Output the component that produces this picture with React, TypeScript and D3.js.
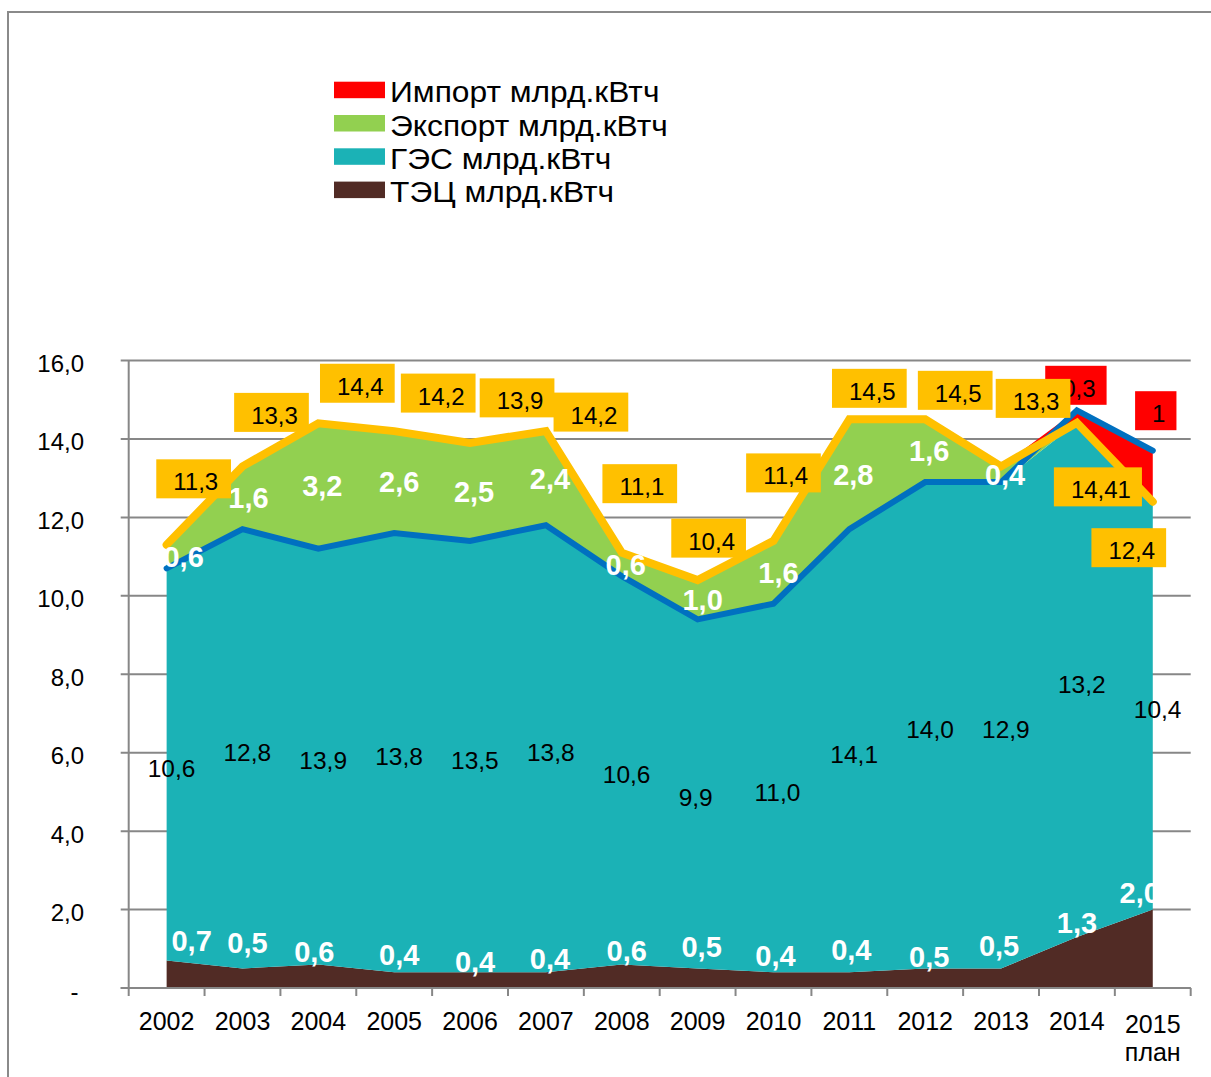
import React from "react";
import * as d3 from "d3";

// ---------- data ----------
const categories = ["2002", "2003", "2004", "2005", "2006", "2007", "2008", "2009", "2010", "2011", "2012", "2013", "2014", "2015"];
const categorySubLabels = ["", "", "", "", "", "", "", "", "", "", "", "", "", "план"];
const tecValues = [0.7, 0.5, 0.6, 0.4, 0.4, 0.4, 0.6, 0.5, 0.4, 0.4, 0.5, 0.5, 1.3, 2.0];
const gesLabelValues = [10.6, 12.8, 13.9, 13.8, 13.5, 13.8, 10.6, 9.9, 11.0, 14.1, 14.0, 12.9, 13.2, 10.4];
const exportValues = [0.6, 1.6, 3.2, 2.6, 2.5, 2.4, 0.6, 1.0, 1.6, 2.8, 1.6, 0.4, 0, 0];
const importValues = [0, 0, 0, 0, 0, 0, 0, 0, 0, 0, 0, 0, 0.32, 1.3];
const importLabels = ["", "", "", "", "", "", "", "", "", "", "", "", "0,3", "1"];
const totalValues = [11.3, 13.3, 14.4, 14.2, 13.9, 14.2, 11.1, 10.4, 11.4, 14.5, 14.5, 13.3, 14.41, 12.4];
const yTicks = [0, 2, 4, 6, 8, 10, 12, 14, 16];
const legendLabels = ["Импорт млрд.кВтч", "Экспорт млрд.кВтч", "ГЭС млрд.кВтч", "ТЭЦ млрд.кВтч"];

// ---------- styles / layout ----------
const COLORS = {
  tec: "#512B25",
  ges: "#1BB2B6",
  export: "#92D050",
  import: "#FF0000",
  yellow: "#FFC000",
  blue: "#0070C0",
  grid: "#878787",
};
const legendColors = [COLORS.import, COLORS.export, COLORS.ges, COLORS.tec];
const FONT = "'Liberation Sans', Arial, sans-serif";
const W = 1211;
const H = 1077;
const PL = 128.7;
const PR = 1190.7;
const PT = 360.5;
const PB = 988;

// label placement (pixel offsets, as placed manually in the original)
const totalLabelOffsets = [
  [27, -66], [29, -54], [39, -40], [44, -38], [47, -45], [45, -19], [18, -69],
  [11, -42], [10, -68], [20, -31], [30, -29], [32, -68], [21, 64], [-24, 46],
];
const importLabelOffsets = [
  [0, 0], [0, 0], [0, 0], [0, 0], [0, 0], [0, 0], [0, 0],
  [0, 0], [0, 0], [0, 0], [0, 0], [0, 0], [-1, -25], [3, -40],
];
const exportLabelDx = [17, 6, 4, 5, 4, 4, 4, 5, 5, 4, 4, 4, 0, 0];
const tecLabelOffsets = [
  [25, -20], [5, -26], [-4, -13], [5, -18], [5, -11], [4, -14], [5, -14],
  [4, -22], [2, -17], [2, -23], [4, -12], [-2, -23], [0, -14], [-13, -17],
];

const fmt1 = (v: number) => v.toFixed(1).replace(".", ",");
const fmtTotal = (v: number) =>
  (Math.abs(Math.round(v * 10) - v * 10) > 1e-6 ? v.toFixed(2) : v.toFixed(1)).replace(".", ",");
const textWidth = (s: string, size: number) =>
  s.split("").reduce((a, ch) => a + (ch === "," || ch === "." ? 0.278 : 0.556), 0) * size;

export default function App() {
  const x = d3.scaleBand<string>().domain(categories).range([PL, PR]).paddingInner(0).paddingOuter(0);
  const cx = (i: number) => (x(categories[i]) as number) + x.bandwidth() / 2;
  const y = d3.scaleLinear().domain([0, 16]).range([PB, PT]);

  const rows = categories.map((c, i) => ({
    tec: tecValues[i],
    ges: totalValues[i] - exportValues[i] - tecValues[i],
    export: exportValues[i],
    import: importValues[i],
  }));
  const keys = ["tec", "ges", "export", "import"];
  const series = d3.stack<any>().keys(keys)(rows);
  const area = d3
    .area<any>()
    .x((d: any, i: number) => cx(i))
    .y0((d: any) => y(d[0]))
    .y1((d: any) => y(d[1]));
  const areaColors: Record<string, string> = {
    tec: COLORS.tec,
    ges: COLORS.ges,
    export: COLORS.export,
    import: COLORS.import,
  };

  const idx = categories.map((_, i) => i);
  const blueLine = d3
    .line<number>()
    .x((i) => cx(i))
    .y((i) => y(totalValues[i] - exportValues[i] + importValues[i]));
  const yellowLine = d3
    .line<number>()
    .x((i) => cx(i))
    .y((i) => y(totalValues[i]));

  const boxLabel = (text: string, centerX: number, centerY: number, fill: string, key: string) => {
    const fs = 24;
    const tw = textWidth(text, fs);
    const bw = tw + 28;
    const bh = 39;
    const left = centerX - bw / 2;
    const top = centerY - bh / 2;
    return (
      <g key={key}>
        <rect x={left} y={top} width={bw} height={bh} fill={fill} />
        <text x={left + 17} y={top + 31} fontSize={fs} fill="#000" fontFamily={FONT}>
          {text}
        </text>
      </g>
    );
  };

  return (
    <svg
      width={W}
      height={H}
      viewBox={`0 0 ${W} ${H}`}
      style={{ position: "absolute", left: 0, top: 0, display: "block", background: "#fff" }}
    >
      {/* chart frame */}
      <rect x={8} y={12} width={W + 20} height={H + 20} fill="none" stroke="#8a8a8a" strokeWidth={2} />

      {/* gridlines */}
      {yTicks.map((t) => (
        <line key={"g" + t} x1={PL - 8} x2={PR} y1={y(t)} y2={y(t)} stroke={COLORS.grid} strokeWidth={2} />
      ))}

      {/* stacked areas */}
      {series.map((s: any) => (
        <path key={s.key} d={area(s) || ""} fill={areaColors[s.key]} />
      ))}

      {/* lines */}
      <path d={blueLine(idx) || ""} fill="none" stroke={COLORS.blue} strokeWidth={6} strokeLinecap="round" strokeLinejoin="miter" />
      <path d={yellowLine(idx) || ""} fill="none" stroke={COLORS.yellow} strokeWidth={8} strokeLinecap="round" strokeLinejoin="miter" />

      {/* axes */}
      <line x1={PL} x2={PL} y1={PT} y2={PB} stroke={COLORS.grid} strokeWidth={2} />
      <line x1={PL - 8} x2={PR} y1={PB} y2={PB} stroke={COLORS.grid} strokeWidth={2} />
      {d3.range(categories.length + 1).map((k) => {
        const xx = PL + k * x.bandwidth();
        return <line key={"xt" + k} x1={xx} x2={xx} y1={PB} y2={PB + 8} stroke={COLORS.grid} strokeWidth={2} />;
      })}

      {/* y tick labels */}
      {yTicks.map((t) => (
        <text
          key={"yl" + t}
          x={t === 0 ? 78.5 : 84}
          y={y(t) + 11.5}
          textAnchor="end"
          fontSize={24}
          fontFamily={FONT}
          fill="#000"
        >
          {t === 0 ? "-" : fmt1(t)}
        </text>
      ))}

      {/* x tick labels */}
      {categories.map((c, i) => (
        <g key={"xl" + c}>
          <text
            x={cx(i)}
            y={categorySubLabels[i] ? 1032.5 : 1030}
            textAnchor="middle"
            fontSize={25}
            fontFamily={FONT}
            fill="#000"
          >
            {c}
          </text>
          {categorySubLabels[i] && (
            <text x={cx(i)} y={1061} textAnchor="middle" fontSize={25} fontFamily={FONT} fill="#000">
              {categorySubLabels[i]}
            </text>
          )}
        </g>
      ))}

      {/* ГЭС labels */}
      {categories.map((c, i) => {
        const mid = (tecValues[i] + totalValues[i] - exportValues[i]) / 2;
        return (
          <text key={"ges" + c} x={cx(i) - 19} y={y(mid) + 12.6} fontSize={24.5} fontFamily={FONT} fill="#000">
            {fmt1(gesLabelValues[i])}
          </text>
        );
      })}

      {/* ТЭЦ labels */}
      {categories.map((c, i) => (
        <text
          key={"tec" + c}
          x={cx(i) + tecLabelOffsets[i][0]}
          y={y(tecValues[i]) + tecLabelOffsets[i][1] + 10.4}
          textAnchor="middle"
          fontSize={29}
          fontWeight="bold"
          fontFamily={FONT}
          fill="#fff"
        >
          {fmt1(tecValues[i])}
        </text>
      ))}

      {/* Export labels */}
      {categories.map((c, i) =>
        exportValues[i] > 0 ? (
          <text
            key={"exp" + c}
            x={cx(i) + exportLabelDx[i]}
            y={y(totalValues[i] - exportValues[i] / 2) + 10.4}
            textAnchor="middle"
            fontSize={29}
            fontWeight="bold"
            fontFamily={FONT}
            fill="#fff"
          >
            {fmt1(exportValues[i])}
          </text>
        ) : null
      )}

      {/* import labels (red boxes) */}
      {categories.map((c, i) =>
        importLabels[i]
          ? boxLabel(
              importLabels[i],
              cx(i) + importLabelOffsets[i][0],
              y(totalValues[i] + importValues[i]) + importLabelOffsets[i][1],
              COLORS.import,
              "imp" + c
            )
          : null
      )}

      {/* total labels (yellow boxes) */}
      {categories.map((c, i) =>
        boxLabel(
          fmtTotal(totalValues[i]),
          cx(i) + totalLabelOffsets[i][0],
          y(totalValues[i]) + totalLabelOffsets[i][1],
          COLORS.yellow,
          "tot" + c
        )
      )}

      {/* legend */}
      {legendLabels.map((l, i) => (
        <g key={"lg" + i}>
          <rect x={334} y={81.7 + 33.3 * i} width={51} height={16.5} fill={legendColors[i]} />
          <text
            transform={`translate(390, ${102.3 + 33.3 * i}) scale(1.095, 1)`}
            fontSize={29}
            fontFamily={FONT}
            fill="#000"
          >
            {l}
          </text>
        </g>
      ))}
    </svg>
  );
}
